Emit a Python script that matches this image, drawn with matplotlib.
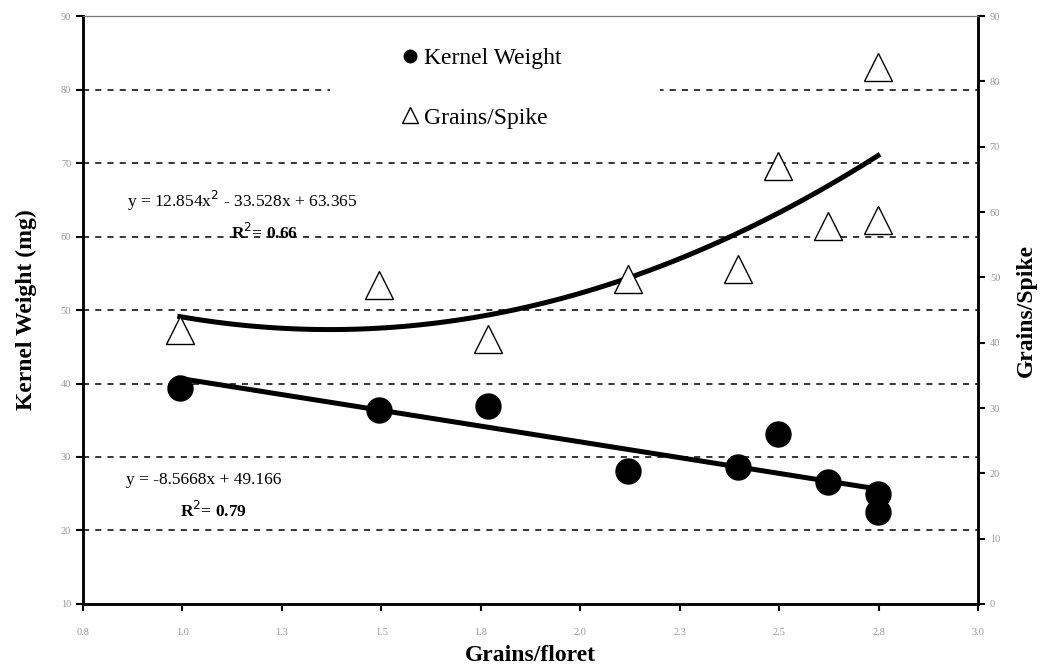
import numpy as np
import matplotlib
matplotlib.use('Agg')
import matplotlib.pyplot as plt
from matplotlib.lines import Line2D
from matplotlib.patches import Rectangle

plt.rcParams['font.family'] = ['Liberation Serif', 'DejaVu Serif']

# data
kw_x = np.array([1.038, 1.528, 1.796, 2.140, 2.410, 2.508, 2.631, 2.754, 2.754])
kw_y = np.array([39.4, 36.4, 36.9, 28.1, 28.6, 33.1, 26.6, 25.0, 22.5])

gs_x = np.array([1.038, 1.528, 1.796, 2.140, 2.410, 2.508, 2.631, 2.754, 2.754])
gs_y = np.array([41.9, 48.8, 40.6, 49.7, 51.3, 67.0, 57.9, 58.8, 82.2])

x_ticks = np.linspace(0.8, 3.0, 10)
x_labels = ['%.1f' % t for t in x_ticks]

fig = plt.figure(figsize=(10.45, 6.69), dpi=100)
ax = fig.add_axes([0.0794, 0.0972, 0.8565, 0.8788])
ax2 = ax.twinx()

# trendlines
m, c = np.polyfit(kw_x, kw_y, 1)
xl = np.linspace(kw_x.min(), kw_x.max(), 50)
ax.plot(xl, m * xl + c, color='black', lw=3.6, zorder=2)

p = np.polyfit(gs_x, gs_y, 2)
xq = np.linspace(gs_x.min(), gs_x.max(), 100)
ax2.plot(xq, np.polyval(p, xq), color='black', lw=3.6, zorder=2)

ax.plot(kw_x, kw_y, 'o', color='black', ms=18, zorder=3)
ax2.plot(gs_x, gs_y, '^', mfc='white', mec='black', mew=1.0, ms=20, zorder=3)

ax.set_xlim(0.8, 3.0)
ax.set_ylim(10, 90)
ax2.set_ylim(0, 90)
ax.set_xticks(x_ticks)
ax.set_xticklabels(x_labels)
ax.set_yticks(np.arange(10, 91, 10))
ax2.set_yticks(np.arange(0, 91, 10))

for a in (ax, ax2):
    a.tick_params(labelsize=7.5, labelcolor='#999999', width=1.5, length=5)
    for s in ('left', 'right', 'bottom'):
        a.spines[s].set_linewidth(1.8)
    a.spines['top'].set_linewidth(0.8)
    a.spines['top'].set_color('#777777')
ax.tick_params(axis='x', pad=12)

for g in range(20, 81, 10):
    ax.axhline(g, color='black', lw=1.1, ls=(0, (4, 4)), zorder=1)

ax.set_xlabel('Grains/floret', fontsize=17, fontweight='bold', labelpad=6)
ax.set_ylabel('Kernel Weight (mg)', fontsize=17, fontweight='bold', labelpad=17)
ax2.set_ylabel('Grains/Spike', fontsize=17, fontweight='bold', labelpad=11, rotation=90)

ax.text(0.122, 0.7, 'y = 12.854x$^{2}$ - 33.528x + 63.365', transform=fig.transFigure,
        fontsize=12.5, va='center')
ax.text(0.221, 0.652, 'R$^{2}$= 0.66', transform=fig.transFigure, fontsize=12.5,
        fontweight='bold', va='center')
ax.text(0.121, 0.283, 'y = -8.5668x + 49.166', transform=fig.transFigure,
        fontsize=12.5, va='center')
ax.text(0.172, 0.236, 'R$^{2}$= 0.79', transform=fig.transFigure, fontsize=12.5,
        fontweight='bold', va='center')

# white area behind the legend
ax.add_patch(Rectangle((0.276, 0.84), 0.369, 0.07, transform=ax.transAxes,
                       facecolor='white', edgecolor='none', zorder=4))

handles = [Line2D([], [], ls='none', marker='o', color='black', ms=9),
           Line2D([], [], ls='none', marker='^', mfc='white', mec='black', ms=11)]
leg = ax.legend(handles, ['Kernel Weight', 'Grains/Spike'], loc='upper left',
                bbox_to_anchor=(0.334, 0.978), frameon=False, fontsize=17,
                handletextpad=0.2, handlelength=0.8, labelspacing=1.6,
                borderpad=0.3)
leg.set_zorder(5)

fig.savefig('out.png', dpi=100)
